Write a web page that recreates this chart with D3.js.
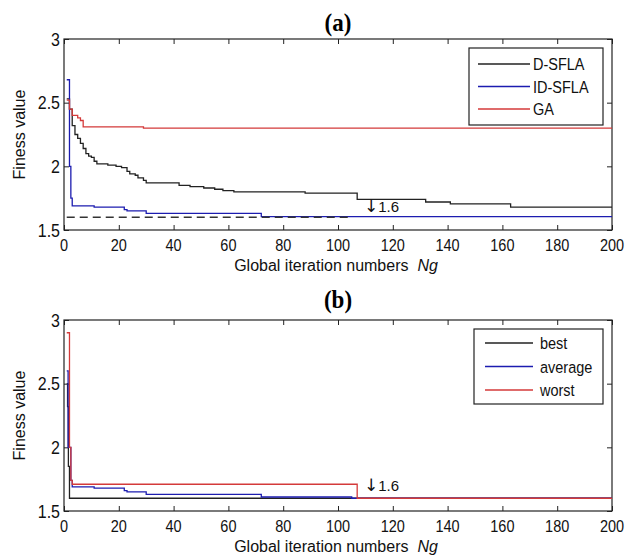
<!DOCTYPE html>
<html>
<head>
<meta charset="utf-8">
<script src="https://cdn.jsdelivr.net/npm/d3@7"></script>
<style>
  body { margin: 0; background: #fff; }
  svg { display: block; font-family: "Liberation Sans", Arial, sans-serif; }
</style>
</head>
<body>
<div id="chart"></div>
<script>
/* DATA */
const xTicks = [0, 20, 40, 60, 80, 100, 120, 140, 160, 180, 200];
const yTicks = [1.5, 2, 2.5, 3];
const yTickLabels = ["1.5", "2", "2.5", "3"];

// panel (a) : [iteration, fitness]
const dsfla = [[1,2.53],[2,2.45],[3,2.32],[4,2.25],[5,2.22],[6,2.18],[7,2.14],[8,2.10],[9,2.08],[10,2.07],
  [11,2.04],[12,2.02],[16,2.01],[19,2.00],[21,1.99],[23,1.96],[24,1.94],[26,1.93],[27,1.91],[29,1.89],
  [30,1.87],[42,1.85],[46,1.84],[51,1.83],[55,1.82],[58,1.81],[62,1.80],[88,1.79],[107,1.74],[132,1.72],
  [141,1.705],[163,1.68],[200,1.68]];
const idsfla = [[1,2.68],[2,2.0],[2.5,1.75],[3,1.69],[11,1.68],[22,1.66],[23,1.65],[30,1.63],[72,1.605],[200,1.605]];
const ga = [[1,2.52],[2,2.45],[3,2.40],[5,2.38],[6,2.36],[7,2.31],[29,2.30],[200,2.30]];
const refLine = [[1,1.6],[105,1.6]];

// panel (b)
const best = [[1,2.5],[1.3,2.32],[1.6,1.85],[2,1.6],[200,1.6]];
const average = [[1,2.6],[1.5,2.0],[2.5,1.74],[3,1.69],[11,1.68],[22,1.66],[23,1.65],[30,1.63],[72,1.61],[105,1.6],[200,1.6]];
const worst = [[1,2.9],[2,2.0],[2.5,1.74],[3,1.71],[106,1.71],[107,1.6],[200,1.6]];

const legendA = ["D-SFLA", "ID-SFLA", "GA"];
const legendB = ["best", "average", "worst"];
const colors = ["#222222", "#1c1cb0", "#d43a3a"];

/* LAYOUT */
const W = 626, H = 560;
const sy = 1.2; // tick and legend text in the picture is stretched vertically

const svg = d3.select("#chart").append("svg")
  .attr("width", W).attr("height", H);

function stretchedText(g, x, y, str, size, anchor, s) {
  return g.append("text")
    .attr("transform", `translate(${x},${y}) scale(1,${s || sy})`)
    .attr("text-anchor", anchor || "start")
    .attr("font-size", size)
    .attr("fill", "#111")
    .text(str);
}

function panel(cfg) {
  const g = svg.append("g");
  const x = d3.scaleLinear().domain([0, 200]).range([64, 612]);
  const y = d3.scaleLinear().domain([1.5, 3]).range([cfg.bottom, cfg.top]);

  // title
  g.append("text")
    .attr("transform", `translate(338,${cfg.titleY}) scale(1,1.1)`)
    .attr("text-anchor", "middle")
    .attr("font-family", "'Liberation Serif', 'Times New Roman', serif")
    .attr("font-weight", "bold")
    .attr("font-size", 23)
    .text(cfg.title);

  // inward ticks on all four sides
  const axes = [
    [d3.axisBottom(x).tickValues(xTicks).tickSize(-5), `translate(0,${cfg.bottom})`],
    [d3.axisTop(x).tickValues(xTicks).tickSize(-5), `translate(0,${cfg.top})`],
    [d3.axisLeft(y).tickValues(yTicks).tickSize(-5), `translate(64,0)`],
    [d3.axisRight(y).tickValues(yTicks).tickSize(-5), `translate(612,0)`]
  ];
  axes.forEach(([ax, tr]) => {
    const a = g.append("g").attr("transform", tr).call(ax.tickFormat(""));
    a.select(".domain").remove();
    a.selectAll("line").attr("stroke", "#222");
  });

  g.append("rect")
    .attr("x", x(0)).attr("y", y(3))
    .attr("width", x(200) - x(0)).attr("height", y(1.5) - y(3))
    .attr("fill", "none").attr("stroke", "#222").attr("stroke-width", 1.2);

  // tick labels
  xTicks.forEach(t => stretchedText(g, x(t), cfg.bottom + 21, String(t), 14.5, "middle", 1.16));
  yTicks.forEach((t, i) => stretchedText(g, 60, y(t) + 6.5, yTickLabels[i], 16, "end", 1.1));

  // axis titles
  const xl = g.append("text")
    .attr("x", 336).attr("y", cfg.bottom + 41)
    .attr("text-anchor", "middle")
    .attr("font-size", 16)
    .attr("fill", "#111");
  xl.append("tspan").text("Global iteration numbers\u00a0\u00a0");
  xl.append("tspan").attr("font-style", "italic").text("Ng");

  g.append("text")
    .attr("transform", `translate(25,${(cfg.top + cfg.bottom) / 2}) rotate(-90)`)
    .attr("text-anchor", "middle")
    .attr("font-size", 16)
    .attr("fill", "#111")
    .text("Finess value");

  // series
  const line = d3.line()
    .x(d => x(d[0]))
    .y(d => y(d[1]))
    .curve(d3.curveStepAfter);

  cfg.series.forEach((s, i) => {
    g.append("path")
      .datum(s)
      .attr("d", line)
      .attr("fill", "none")
      .attr("stroke", colors[i])
      .attr("stroke-width", 1.3);
  });

  if (cfg.ref) {
    g.append("path")
      .datum(cfg.ref)
      .attr("d", d3.line().x(d => x(d[0])).y(d => y(d[1])))
      .attr("fill", "none")
      .attr("stroke", "#333")
      .attr("stroke-width", 1.5)
      .attr("stroke-dasharray", "8,5");
  }

  // annotation
  const ann = g.append("text")
    .attr("x", x(109.5)).attr("y", y(cfg.annY))
    .attr("font-size", 15)
    .attr("fill", "#111");
  ann.append("tspan").attr("font-family", "'DejaVu Sans', sans-serif").attr("font-size", 17).text("\u2193");
  ann.append("tspan").text("1.6");

  // legend
  const L = cfg.legend;
  g.append("rect")
    .attr("x", L.x).attr("y", L.y).attr("width", L.w).attr("height", L.h)
    .attr("fill", "#fff").attr("stroke", "#222").attr("stroke-width", 1.2);
  cfg.labels.forEach((lab, i) => {
    const ry = L.y + L.first + i * L.step;
    g.append("line")
      .attr("x1", L.x + L.l0).attr("x2", L.x + L.l1)
      .attr("y1", ry).attr("y2", ry)
      .attr("stroke", colors[i]).attr("stroke-width", 1.3);
    stretchedText(g, L.x + L.t, ry + 6, lab, 14.5, "start");
  });
}

panel({
  title: "(a)", titleY: 31, top: 39, bottom: 230,
  series: [dsfla, idsfla, ga], ref: refLine, annY: 1.64,
  labels: legendA,
  legend: { x: 469, y: 48, w: 134, h: 77, first: 16, step: 22.5, l0: 9, l1: 61, t: 64 }
});

panel({
  title: "(b)", titleY: 308, top: 320, bottom: 511,
  series: [best, average, worst], ref: null, annY: 1.655,
  labels: legendB,
  legend: { x: 474, y: 329, w: 129, h: 75, first: 14, step: 23.5, l0: 11, l1: 59, t: 66 }
});
</script>
</body>
</html>
